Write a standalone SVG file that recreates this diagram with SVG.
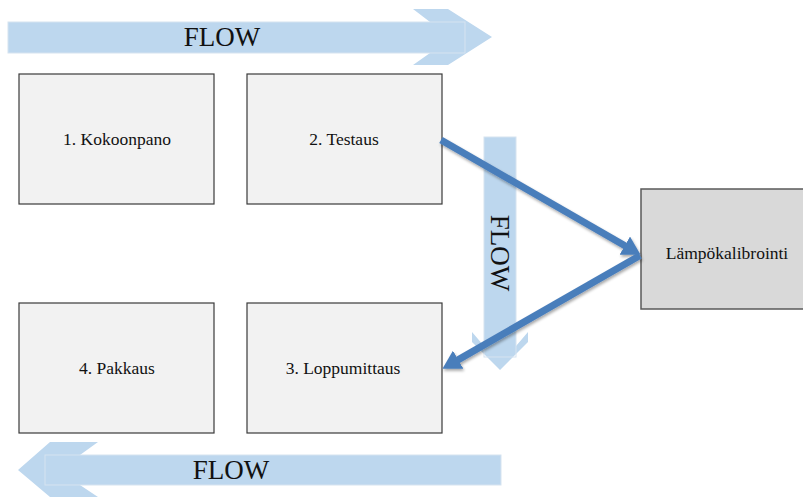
<svg xmlns="http://www.w3.org/2000/svg" width="803" height="497" viewBox="0 0 803 497">
<style>
.flow{fill:#BDD7EE;}
.flowedge{fill:none;stroke:#D6E3F0;stroke-width:1;}
.flowtxt{font-family:"Liberation Serif",serif;font-size:27px;fill:#111;text-anchor:middle;}
.box{fill:#F2F2F2;stroke:#3A3A3A;stroke-width:1.2;}
.box2{fill:#D9D9D9;stroke:#595959;stroke-width:1.5;}
.lbl{font-family:"Liberation Serif",serif;font-size:17.5px;fill:#111;text-anchor:middle;}
.conn{stroke:#4A7EBB;stroke-width:7;fill:none;marker-end:url(#ah);}
</style>
<defs>
<marker id="ah" markerWidth="2.6" markerHeight="3" refX="0.1" refY="1.5" orient="auto" markerUnits="strokeWidth" viewBox="0 0 2.6 3">
<path d="M0,0 L2.6,1.5 L0,3 z" fill="#4A7EBB"/>
</marker>
<filter id="sh" x="-10%" y="-10%" width="120%" height="120%">
<feGaussianBlur in="SourceAlpha" stdDeviation="1.5"/>
<feOffset dx="1" dy="1.5" result="b"/>
<feComponentTransfer><feFuncA type="linear" slope="0.35"/></feComponentTransfer>
<feMerge><feMergeNode/><feMergeNode in="SourceGraphic"/></feMerge>
</filter>
</defs>
<rect width="803" height="497" fill="#FFFFFF"/>
<g id="flow-top">
<polygon class="flow" points="8,22 430,22 413,9 448,9 492,37 448,65 413,65 430,53 8,53"/>
<rect class="flowedge" x="8" y="22" width="457" height="31"/>
<text class="flowtxt" x="222" y="46">FLOW</text>
</g>
<g id="flow-bottom">
<polygon class="flow" points="501,455 80,455 98,442 50,442 18,470 50,497 98,497 80,485 501,485"/>
<rect class="flowedge" x="45" y="455" width="456" height="30"/>
<text class="flowtxt" x="231" y="479">FLOW</text>
</g>
<g id="flow-mid">
<polygon class="flow" points="484,137 516,137 516,346 528,332 528,342 500,370 472,342 472,332 484,346"/>
<rect class="flowedge" x="484" y="137" width="32" height="220"/>
<text class="flowtxt" transform="translate(491,253) rotate(90)">FLOW</text>
</g>
<g id="n1"><rect class="box" x="19" y="74" width="195" height="130"/><text class="lbl" x="117" y="145">1. Kokoonpano</text></g>
<g id="n2"><rect class="box" x="247" y="74" width="195" height="130"/><text class="lbl" x="344" y="145">2. Testaus</text></g>
<g id="n3"><rect class="box" x="247" y="303" width="195" height="130"/><text class="lbl" x="343" y="374">3. Loppumittaus</text></g>
<g id="n4"><rect class="box" x="19" y="303" width="195" height="130"/><text class="lbl" x="117" y="374">4. Pakkaus</text></g>
<g id="n5"><rect class="box2" x="641" y="189" width="172" height="120"/><text class="lbl" x="727" y="259">Lämpökalibrointi</text></g>
<g id="connectors" filter="url(#sh)">
<line class="conn" x1="441" y1="140" x2="625.4" y2="246"/>
<line class="conn" x1="640" y1="255.5" x2="457.6" y2="360.1"/>
</g>
</svg>
